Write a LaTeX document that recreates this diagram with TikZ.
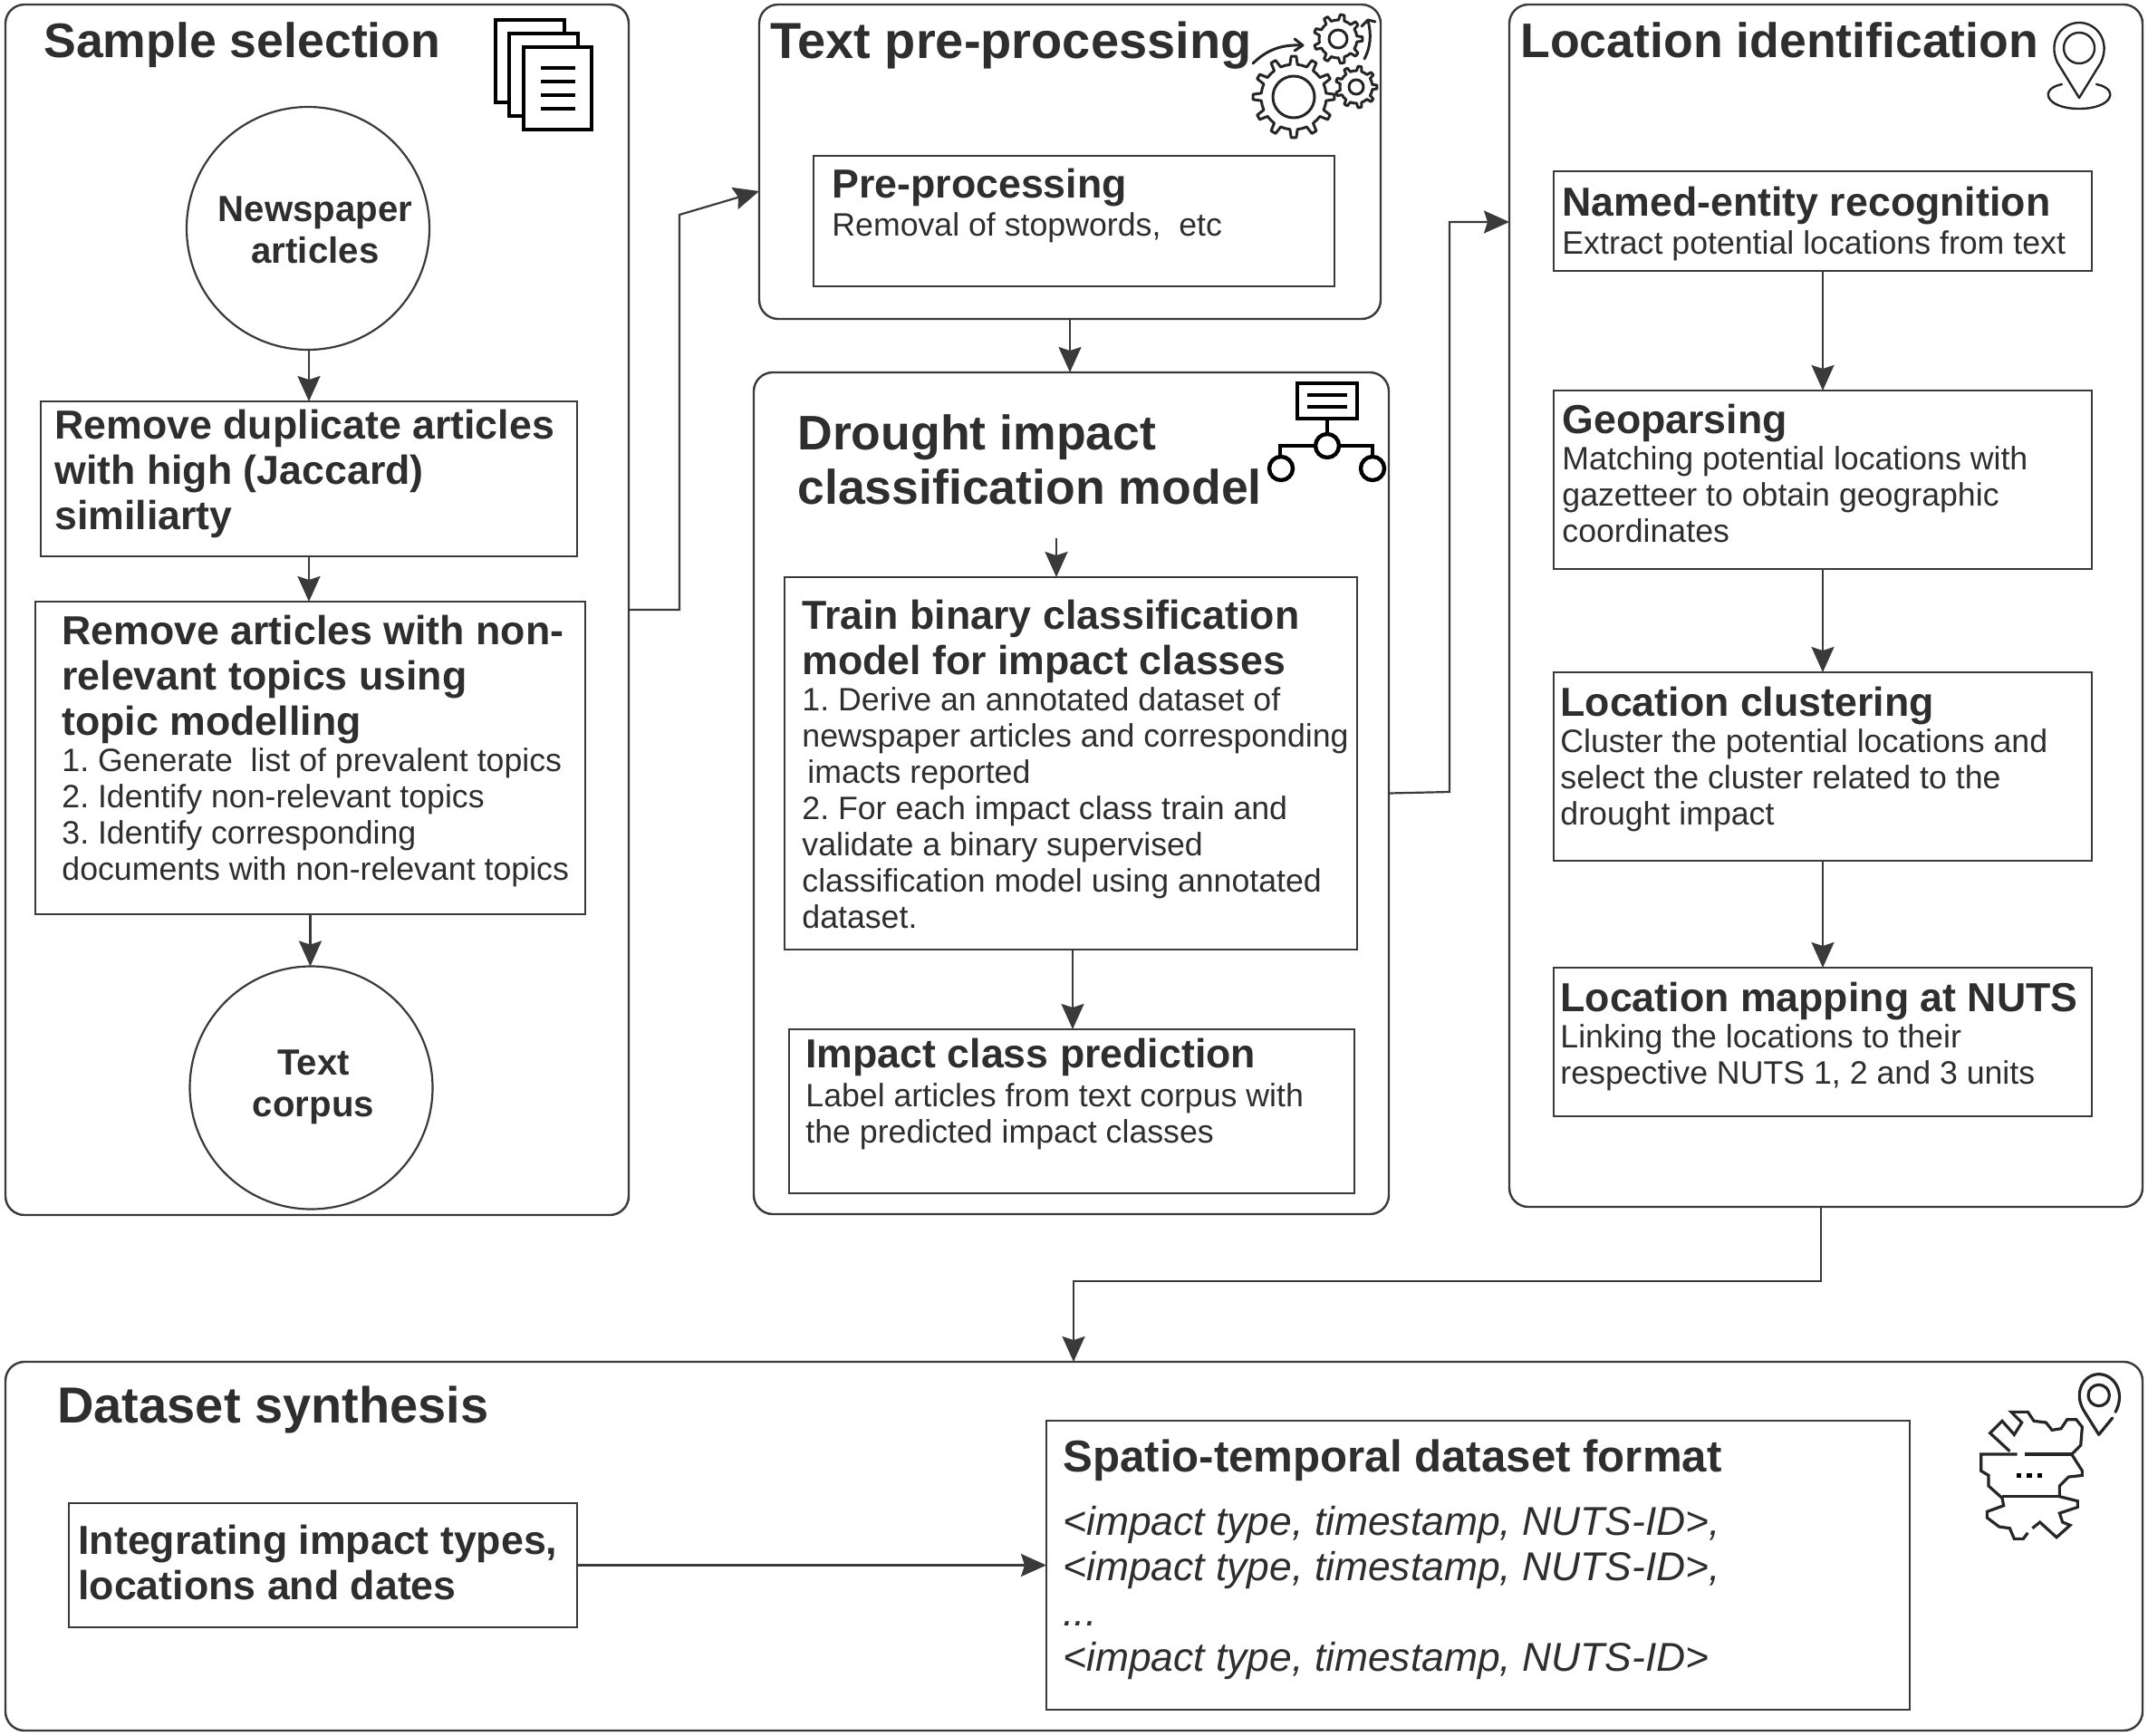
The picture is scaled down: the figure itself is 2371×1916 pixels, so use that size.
\documentclass[tikz,border=0pt]{standalone}
\usepackage{fontspec}
\usepackage{xcolor}
\setmainfont{Liberation Sans}
\usetikzlibrary{arrows.meta}

\definecolor{inkgray}{HTML}{2E2E2E}
\definecolor{linegray}{HTML}{3A3A3A}
\newcommand{\titlefont}[1][26.8]{\fontsize{#1}{30}\selectfont\bfseries}
\newcommand{\headfont}[1][22.35]{\fontsize{#1}{25}\selectfont\bfseries}
\newcommand{\bodyfont}{\fontsize{17.85}{20}\selectfont\mdseries\frenchspacing}
\newcommand{\listfont}{\fontsize{22.2}{25}\selectfont\mdseries\itshape\frenchspacing}

\tikzset{
	panel/.style 2 args={draw=linegray, line width=1.2pt, rounded corners=10.5pt, inner sep=0pt, outer sep=0pt, anchor=north west, minimum width=#1pt, minimum height=#2pt},
	stepbox/.style 2 args={draw=linegray, line width=1.1pt, inner sep=0pt, outer sep=0pt, anchor=north west, minimum width=#1pt, minimum height=#2pt},
	steptext/.style={text=inkgray, inner sep=0pt, anchor=north west, align=flush left, text width=#1pt},
	steptext/.default=320,
	endpoint/.style={draw=linegray, line width=1.1pt, circle, inner sep=0pt, outer sep=0pt, minimum size=134pt},
	endtext/.style={text=inkgray, inner sep=0pt, align=center, font=\fontsize{20.1}{23}\selectfont\bfseries},
	flow/.style={draw=linegray, line width=1.1pt, -{Stealth[length=14pt,width=12.5pt,inset=2pt]}},
	iconthin/.style={draw=black!85, line width=1.2pt, line join=round, line cap=round},
	iconthick/.style={draw=black, line width=2.2pt, line join=miter}
}

% teeth of one gear: x, y, outer radius, root radius, number of teeth
\newcommand{\gearicon}[5]{
	\begin{scope}[shift={(#1,#2)}]
		\pgfmathsetmacro{\gearstep}{360/#5}
		\draw[iconthin, line width=1.5pt] (-0.5*\gearstep:#4)
			\foreach \k in {1,...,#5} {
				-- ({(\k-1)*\gearstep-0.22*\gearstep}:#4)
				-- ({(\k-1)*\gearstep-0.12*\gearstep}:#3)
				-- ({(\k-1)*\gearstep+0.12*\gearstep}:#3)
				-- ({(\k-1)*\gearstep+0.22*\gearstep}:#4)
				-- ({(\k-1)*\gearstep+0.5*\gearstep}:#4)
			} -- cycle;
	\end{scope}
}

\begin{document}
\begin{tikzpicture}[x=0.5pt, y=-0.5pt]
	\useasboundingbox (0,0) rectangle (2371,1916);

	% panels
	\node[panel={344}{668}] (sample) at (6,5) {};
	\node[panel={343}{173.5}] (prep) at (838,5) {};
	\node[panel={350.5}{464.5}] (model) at (832,411) {};
	\node[panel={349.5}{663.5}] (loc) at (1666,5) {};
	\node[panel={1179.5}{203.5}] (synth) at (6,1503) {};

	\node[steptext=320] (sampletitle) at (48,24) {\titlefont Sample selection\par};
	\node[steptext=320] (preptitle) at (850,24) {\titlefont[28]Text pre-processing\par};
	\node[steptext=340] (modeltitle) at (880,457) {\titlefont Drought impact\\classification model\par};
	\node[steptext=330] (loctitle) at (1678,24) {\titlefont Location identification\par};
	\node[steptext=320] (synthtitle) at (63,1530) {\titlefont[28]Dataset synthesis\par};

	% sample selection
	\node[endpoint] (news) at (340,252) {};
	\node[endtext] (newstext) at (348,254) {Newspaper\\articles};
	\node[stepbox={296}{85.5}] (dup) at (45,443) {};
	\node[steptext=290] (duptext) at (60,452) {\headfont Remove duplicate articles\\with high (Jaccard)\\similiarty\par};
	\node[stepbox={303.5}{172.5}] (topics) at (39,664) {};
	\node[steptext=300] (topicstext) at (68,679) {\headfont Remove articles with non-\\relevant topics using\\topic modelling\par\bodyfont 1. Generate\ \ list of prevalent topics\\2. Identify non-relevant topics\\3. Identify corresponding\\documents with non-relevant topics\par};
	\node[endpoint] (corpus) at (343.5,1200.5) {};
	\node[endtext] (corpustext) at (346,1200) {Text\\corpus};

	% pre-processing
	\node[stepbox={287.5}{72}] (clean) at (898,172) {};
	\node[steptext=280] (cleantext) at (918,186) {\headfont Pre-processing\par\vspace{0.7pt}\bodyfont Removal of stopwords,\ \ etc\par};

	% classification
	\node[stepbox={316}{205.5}] (train) at (866,637) {};
	\node[steptext=312] (traintext) at (885,662) {\headfont Train binary classification\\model for impact classes\par\bodyfont 1. Derive an annotated dataset of\\newspaper articles and corresponding\\\hspace*{3pt}imacts reported\\2. For each impact class train and\\validate a binary supervised\\classification model using annotated\\dataset.\par};
	\node[stepbox={312}{90.5}] (predict) at (871,1136) {};
	\node[steptext=305] (predicttext) at (889,1146) {\headfont Impact class prediction\par\vspace{1.2pt}\bodyfont Label articles from text corpus with\\the predicted impact classes\par};

	% location
	\node[stepbox={297}{55}] (ner) at (1715,189) {};
	\node[steptext=292] (nertext) at (1724,206) {\headfont Named-entity recognition\par\vspace{0.7pt}\bodyfont Extract potential locations from text\par};
	\node[stepbox={297}{98.5}] (geo) at (1715,431) {};
	\node[steptext=292] (geotext) at (1724,446) {\headfont Geoparsing\par\bodyfont Matching potential locations with\\gazetteer to obtain geographic\\coordinates\par};
	\node[stepbox={297}{104}] (cluster) at (1715,742) {};
	\node[steptext=292] (clustertext) at (1722,758) {\headfont Location clustering\par\bodyfont Cluster the potential locations and\\select the cluster related to the\\drought impact\par};
	\node[stepbox={297}{82}] (nuts) at (1715,1068) {};
	\node[steptext=294] (nutstext) at (1722,1084) {\headfont Location mapping at NUTS\par\bodyfont Linking the locations to their\\respective NUTS 1, 2 and 3 units\par};

	% synthesis
	\node[stepbox={280.5}{68.5}] (merge) at (76,1659) {};
	\node[steptext=275] (mergetext) at (86,1683) {\headfont Integrating impact types,\\locations and dates\par};
	\node[stepbox={476.5}{159.5}] (format) at (1155,1568) {};
	\node[steptext=465] (formattext) at (1173,1588) {\headfont[24.6]Spatio-temporal dataset format\par\vspace{10pt}\listfont <impact type, timestamp, NUTS-ID>,\\<impact type, timestamp, NUTS-ID>,\\...\\<impact type, timestamp, NUTS-ID>\par};

	% connectors
	\coordinate (sampleout) at (750,673);
	\coordinate (sampleup) at (750,237);
	\coordinate (prepin) at (838,211);
	\coordinate (modelout) at (1600,874);
	\coordinate (modelup) at (1600,245);
	\coordinate (locin) at (1666,245);
	\coordinate (locdown) at (2010,1414);
	\coordinate (synthdown) at (1185,1414);
	\coordinate (modelin) at (1181,411);
	\coordinate (modelstart) at (1166,594);
	\coordinate (predictin) at (1184,1136);

	\path[every edge/.style={flow}]
		(dup.north |- news.south) edge (dup.north)
		(dup.south) edge (dup.south |- topics.north)
		(topics.south) edge (topics.south |- corpus.north)
		(modelin |- prep.south) edge (modelin)
		(modelstart) edge (modelstart |- train.north)
		(predictin |- train.south) edge (predictin)
		(ner) edge (geo)
		(geo) edge (cluster)
		(cluster) edge (nuts)
		(merge) edge (format)
	;
	\draw[flow] (sample.east) -- (sampleout) -- (sampleup) -- (prepin);
	\draw[flow] (model.east) -- (modelout) -- (modelup) -- (locin);
	\draw[flow] (loc.south -| locdown) -- (locdown) -- (synthdown) -- (synthdown |- synth.north);

	% document icon
	\draw[iconthick, fill=white] (547,22) rectangle (623,113);
	\draw[iconthick, fill=white] (562,37) rectangle (638,128);
	\draw[iconthick, fill=white] (578,52) rectangle (653,143);
	\foreach \y in {75,90,105,120}
		\draw[iconthick] (597,\y) -- (635,\y);

	% gear icon
	\gearicon{1428}{107}{45}{36}{12}
	\gearicon{1477}{43}{27}{21}{9}
	\gearicon{1497}{96}{23}{18}{9}
	\draw[iconthin, line width=1.5pt] (1428,107) circle (23);
	\draw[iconthin, line width=1.5pt] (1477,43) circle (10);
	\draw[iconthin, line width=1.5pt] (1497,96) circle (8);
	\draw[iconthin, line width=1.5pt] (1383,70) .. controls (1398,55) and (1415,49) .. (1436,50);
	\draw[iconthin, line width=1.5pt] (1429,43) -- (1438,50) -- (1429,56);
	\draw[iconthin, line width=1.5pt] (1506,65) .. controls (1513,52) and (1514,38) .. (1510,23);
	\draw[iconthin, line width=1.5pt] (1503,29) -- (1510,22) -- (1518,24);

	% tree icon
	\draw[iconthick] (1432,423) rectangle (1498,462);
	\draw[iconthick] (1443,436) -- (1487,436) (1443,449) -- (1487,449);
	\draw[iconthick] (1465,462) -- (1465,479);
	\draw[iconthick] (1452,492) -- (1413,492) -- (1413,504);
	\draw[iconthick] (1478,492) -- (1515,492) -- (1515,504);
	\draw[iconthick] (1465,492) circle (13);
	\draw[iconthick] (1414,517) circle (13);
	\draw[iconthick] (1515,517) circle (13);

	% pin icon
	\draw[iconthin] (2295,108) -- (2271,69) .. controls (2260,45) and (2276,25) .. (2295,25) .. controls (2314,25) and (2330,45) .. (2319,69) -- cycle;
	\draw[iconthin] (2295,53) circle (17);
	\draw[iconthin] (2276,93) .. controls (2250,98) and (2258,120) .. (2295,120) .. controls (2332,120) and (2340,98) .. (2314,93);

	% map icon, in steps of a third of a pixel
	\begin{scope}[shift={(2160,1500)}, x=0.1667pt, y=-0.1667pt]
		\draw[iconthin, line width=1.6pt, line cap=butt, line join=miter] (175,305) -- (110,245) -- (150,205) -- (190,250) -- (215,210) -- (180,175) -- (235,175) -- (255,205) -- (295,210) -- (315,235) -- (345,230) -- (365,200) -- (395,200) -- (415,225) -- (410,285) -- (380,315) -- (415,370) -- (415,385) -- (370,390) -- (340,420) -- (340,455) -- (400,470) -- (400,490) -- (340,510) -- (350,540) -- (375,550) -- (330,590) -- (275,540) -- (250,560);
		\draw[iconthin, line width=1.6pt, line cap=butt, line join=miter] (200,315) -- (80,315) -- (80,370) -- (105,385) -- (105,420) -- (150,460) -- (155,485) -- (100,505) -- (100,525) -- (140,555) -- (175,560) -- (190,595) -- (220,595) -- (235,575);
		\draw[iconthin, line width=1.6pt, line cap=butt] (225,315) -- (380,315) (150,455) -- (340,455);
		\foreach \x in {205,240,275}
			\fill[black] (\x-8,377) rectangle (\x+8,393);
		\draw[iconthin, line width=1.6pt] (515,195) -- (470,250) -- (420,170) .. controls (385,110) and (420,50) .. (470,50) .. controls (520,50) and (560,110) .. (525,175);
		\draw[iconthin, line width=1.6pt] (470,120) circle (35);
	\end{scope}
\end{tikzpicture}
\end{document}
